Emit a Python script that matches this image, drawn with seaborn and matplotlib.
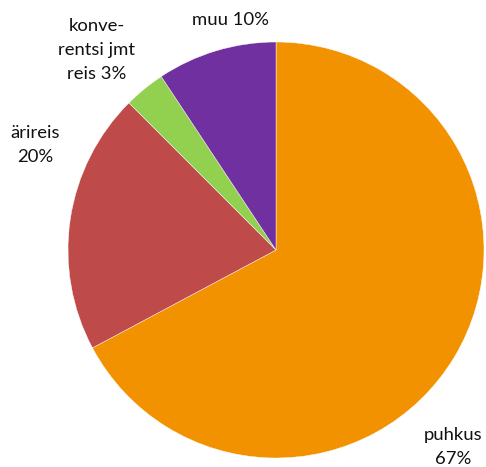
import matplotlib
matplotlib.use("Agg")
import matplotlib.pyplot as plt
import seaborn as sns
import numpy as np

categories = ["puhkus", "ärireis", "konve-\nrentsi jmt\nreis", "muu"]
values = [67.2, 20.3, 3.2, 9.3]
pct_labels = ["67%", "20%", "3%", "10%"]
colors = ["#F39200", "#BE4B4A", "#92D050", "#7030A0"]

sns.set_theme(style="white")
plt.rcParams['font.family'] = ['Lato', 'DejaVu Sans']

fig = plt.figure(figsize=(4.86, 4.67), dpi=100)
ax = fig.add_axes([68/486, 9/467, 416/486, 416/467])
pal = sns.color_palette(colors)
ax.pie(values, colors=pal, startangle=90, counterclock=False, radius=1,
       wedgeprops=dict(linewidth=0.3, edgecolor="white"))
ax.set_xlim(-1, 1)
ax.set_ylim(-1, 1)
ax.set_aspect("equal")
ax.axis("off")

label_texts = [f"{categories[0]}\n{pct_labels[0]}", f"{categories[1]}\n{pct_labels[1]}",
               f"{categories[2]} {pct_labels[2]}", f"{categories[3]} {pct_labels[3]}"]
label_pos = [(0.851, -0.947), (-1.159, 0.505), (-0.861, 0.962), (-0.221, 1.106)]
for t, (x, y) in zip(label_texts, label_pos):
    ax.text(x, y, t, ha="center", va="center", fontsize=13.3, color="#111111",
            linespacing=1.62, clip_on=False)

fig.savefig("out.png", dpi=100)
